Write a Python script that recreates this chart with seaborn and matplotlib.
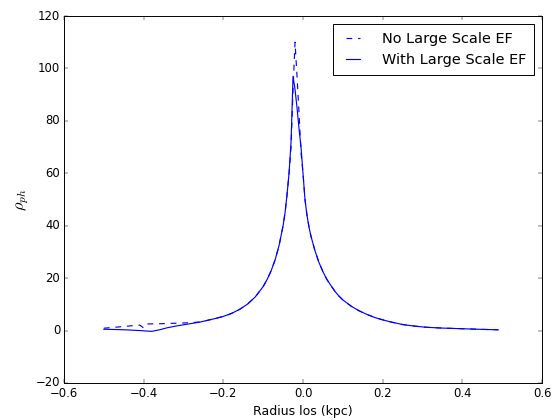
import matplotlib
matplotlib.use("Agg")
import matplotlib.pyplot as plt
import seaborn as sns
import numpy as np

radius = [-0.50, -0.47, -0.44, -0.41, -0.40, -0.39, -0.38, -0.36, -0.34, -0.32,
          -0.30, -0.28, -0.26, -0.24, -0.22, -0.20, -0.18, -0.16, -0.14, -0.12,
          -0.10, -0.09, -0.08, -0.07, -0.06, -0.05, -0.045, -0.04, -0.035, -0.03,
          -0.025, -0.02, -0.015, -0.01, -0.005, 0.0, 0.005, 0.01, 0.015, 0.02,
          0.03, 0.04, 0.05, 0.06, 0.07, 0.08, 0.09, 0.10, 0.12, 0.14,
          0.16, 0.18, 0.20, 0.22, 0.25, 0.28, 0.31, 0.35, 0.40, 0.45, 0.49]

no_large_ef = [0.9, 1.3, 1.7, 2.1, 1.0, 2.5, 2.55, 2.6, 2.7, 2.8,
               2.9, 3.0, 3.3, 3.9, 4.6, 5.4, 6.5, 8.0, 10.0, 12.8,
               16.8, 19.5, 22.8, 27.0, 32.5, 40.0, 45.0, 52.0, 60.0, 70.0,
               92.0, 110.0, 97.0, 83.0, 68.0, 60.0, 50.0, 44.0, 39.5, 36.0,
               30.5, 26.0, 22.5, 19.5, 17.2, 15.0, 13.2, 11.7, 9.4, 7.6,
               6.2, 5.0, 4.1, 3.3, 2.3, 1.7, 1.25, 0.95, 0.7, 0.45, 0.3]

with_large_ef = [0.5, 0.4, 0.25, 0.0, -0.1, -0.2, -0.3, 0.3, 1.1, 1.7,
                 2.2, 2.7, 3.2, 3.9, 4.6, 5.4, 6.5, 8.0, 10.0, 12.8,
                 16.8, 19.5, 22.8, 27.0, 32.5, 40.0, 45.0, 52.0, 60.0, 72.0,
                 97.0, 92.0, 85.0, 77.0, 70.0, 60.0, 50.0, 44.0, 39.5, 36.0,
                 30.5, 26.0, 22.5, 19.5, 17.2, 15.0, 13.2, 11.7, 9.4, 7.6,
                 6.2, 5.0, 4.1, 3.3, 2.3, 1.7, 1.25, 0.95, 0.7, 0.45, 0.3]

plt.style.use("classic")
fig = plt.figure(figsize=(8, 420 / 69.5), dpi=69.5)
ax = fig.add_axes([64 / 556, 1 - 383 / 420, (542 - 64) / 556, (383 - 16) / 420])

sns.lineplot(x=radius, y=no_large_ef, ax=ax, color="b", linestyle="--", lw=1.2,
             label="No Large Scale EF", sort=False, estimator=None)
sns.lineplot(x=radius, y=with_large_ef, ax=ax, color="b", linestyle="-", lw=1.2,
             label="With Large Scale EF", sort=False, estimator=None)

ax.set_xlim(-0.6, 0.6)
ax.set_ylim(-20, 120)
ax.set_xticks(np.arange(-0.6, 0.61, 0.2))
ax.set_yticks(np.arange(-20, 121, 20))
ax.set_xlabel("Radius los (kpc)", fontsize=13)
ax.set_ylabel(r"$\rho_{ph}$", fontsize=17)
ax.legend(loc="upper right", fontsize=15, handlelength=1.6, handletextpad=1.2,
          borderpad=0.55, borderaxespad=0.55)
fig.savefig("out.png", dpi=69.5)
